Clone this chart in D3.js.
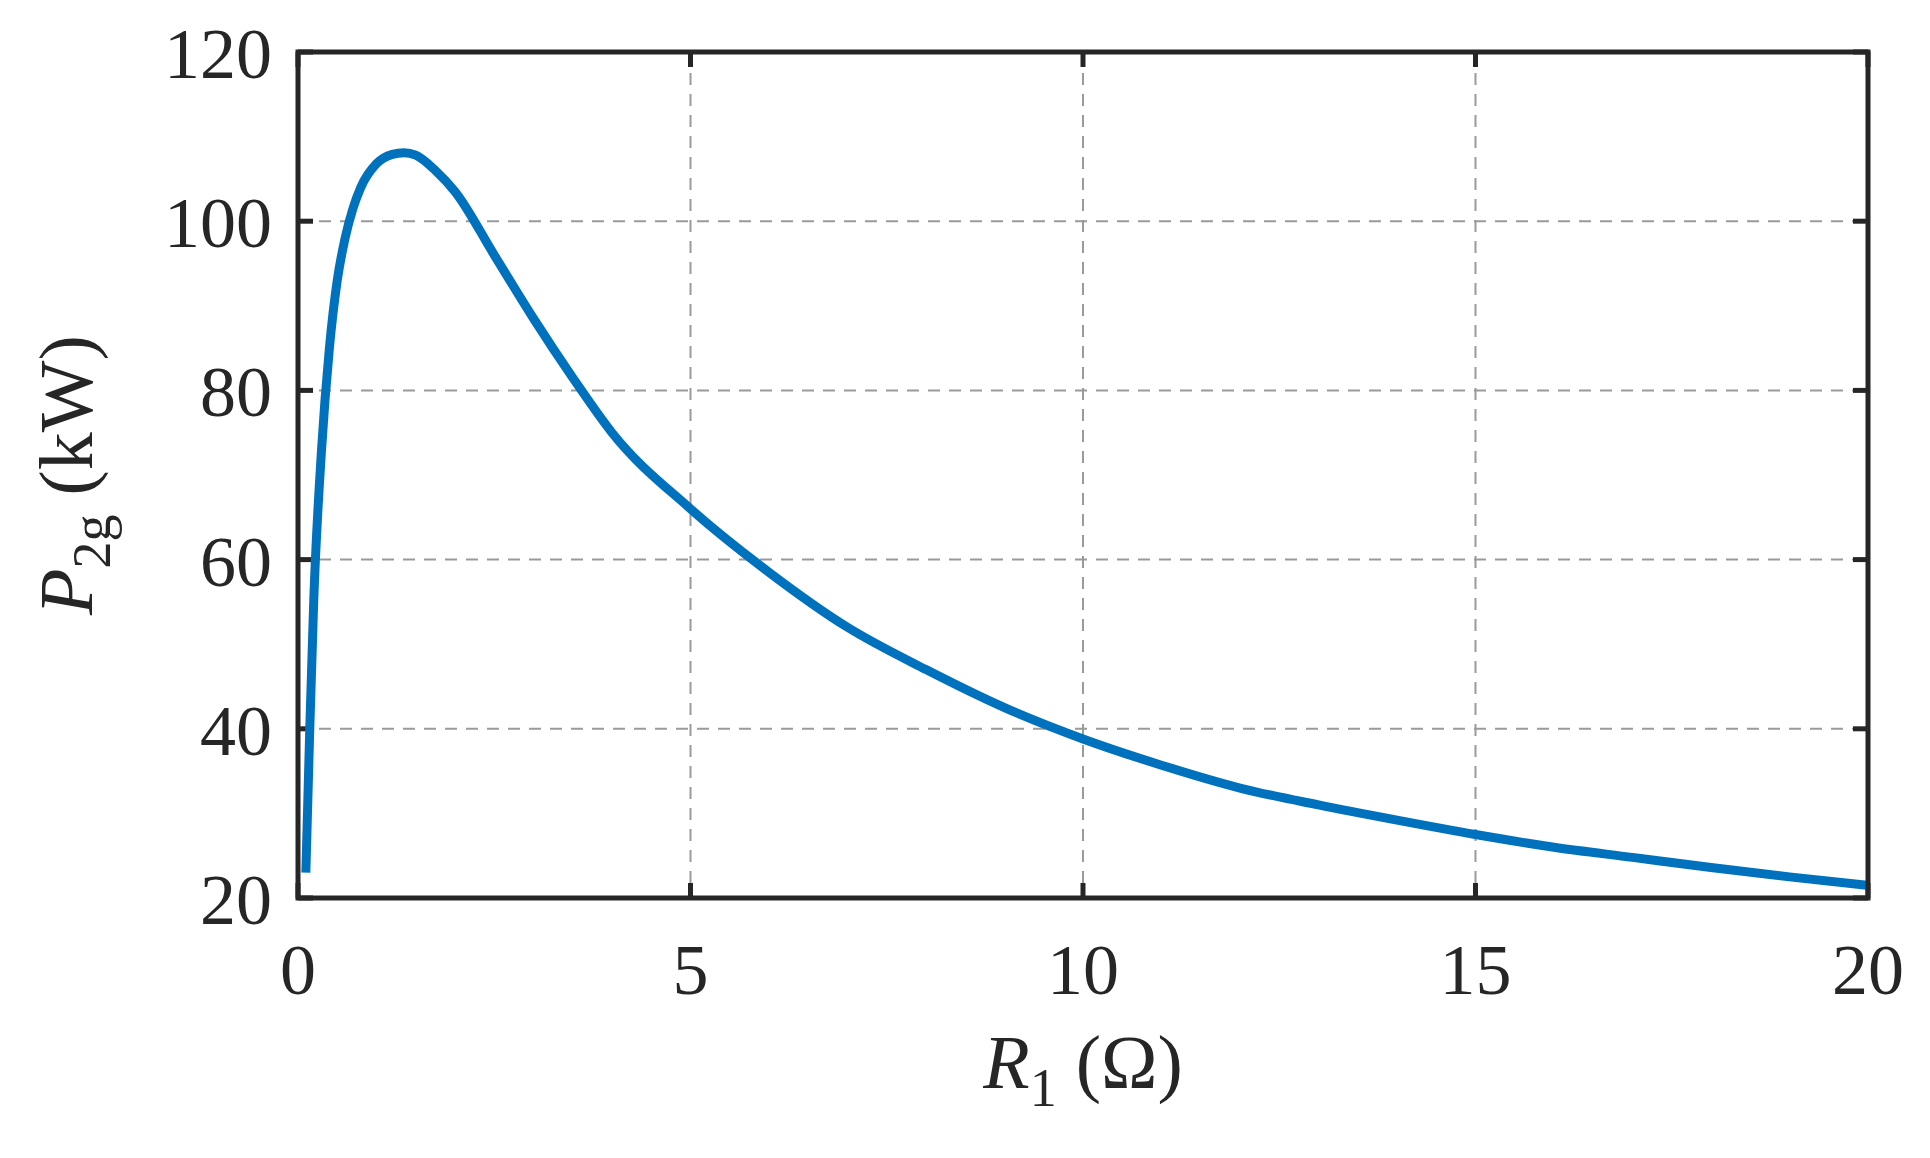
<!DOCTYPE html>
<html><head><meta charset="utf-8">
<script src="https://cdn.jsdelivr.net/npm/d3@7"></script>
<style>body{margin:0;background:#fff}</style>
</head><body>
<div id="chart"></div>
<script>
const rValues = [0.1,0.15,0.2,0.3,0.4,0.5,0.6,0.7,0.8,1.0,1.2,1.35,1.5,1.75,2.0,2.5,3,3.5,4,5,6,7,8,9,10,11,12,13,14,15,16,17,18,19,20];
const pValues = [23,40,55,73,85,93,98,101.5,104,106.8,107.9,108.1,107.8,106,103.5,96,88.5,81.5,75,66,58.5,52,47,42.5,38.8,35.7,33,31,29.2,27.5,26,24.8,23.6,22.5,21.5];
const xTicks = [0,5,10,15,20];
const yTicks = [20,40,60,80,100,120];

const width = 1930, height = 1158;
const m = {left: 298, right: 62, top: 52, bottom: 260};
const ink = "#262626";
const font = "'Liberation Serif','DejaVu Serif',serif";

const svg = d3.select("#chart").append("svg")
  .attr("width", width).attr("height", height);

const x = d3.scaleLinear().domain([0, 20]).range([m.left, width - m.right]);
const y = d3.scaleLinear().domain([20, 120]).range([height - m.bottom, m.top]);

// Grid lines
svg.append("g").selectAll("line").data(xTicks.slice(1, -1)).enter().append("line")
  .attr("x1", d => x(d)).attr("x2", d => x(d))
  .attr("y1", y(120)).attr("y2", y(20))
  .attr("stroke", "#9a9a9a").attr("stroke-width", 2).attr("stroke-dasharray", "12,9");
svg.append("g").selectAll("line").data(yTicks.slice(1, -1)).enter().append("line")
  .attr("x1", x(0)).attr("x2", x(20))
  .attr("y1", d => y(d)).attr("y2", d => y(d))
  .attr("stroke", "#9a9a9a").attr("stroke-width", 2).attr("stroke-dasharray", "12,9");

// Inward tick marks on all sides
const tl = 15;
const ticks = svg.append("g").attr("stroke", ink).attr("stroke-width", 5);
xTicks.forEach(d => {
  ticks.append("line").attr("x1", x(d)).attr("x2", x(d)).attr("y1", y(20)).attr("y2", y(20) - tl);
  ticks.append("line").attr("x1", x(d)).attr("x2", x(d)).attr("y1", y(120)).attr("y2", y(120) + tl);
});
yTicks.forEach(d => {
  ticks.append("line").attr("x1", x(0)).attr("x2", x(0) + tl).attr("y1", y(d)).attr("y2", y(d));
  ticks.append("line").attr("x1", x(20)).attr("x2", x(20) - tl).attr("y1", y(d)).attr("y2", y(d));
});

// Curve
const pts = rValues.map((r, i) => [r, pValues[i]]);
svg.append("path").datum(pts)
  .attr("fill", "none").attr("stroke", "#0072BD").attr("stroke-width", 9)
  .attr("d", d3.line().x(d => x(d[0])).y(d => y(d[1])).curve(d3.curveMonotoneX));

// Frame
svg.append("rect")
  .attr("x", x(0)).attr("y", y(120))
  .attr("width", x(20) - x(0)).attr("height", y(20) - y(120))
  .attr("fill", "none").attr("stroke", ink).attr("stroke-width", 5);

// Tick labels
svg.append("g").selectAll("text").data(xTicks).enter().append("text")
  .attr("x", d => x(d)).attr("y", y(20) + 96)
  .attr("text-anchor", "middle").attr("font-family", font).attr("font-size", 72).attr("fill", ink)
  .text(d => d);
svg.append("g").selectAll("text").data(yTicks).enter().append("text")
  .attr("x", x(0) - 26).attr("y", d => y(d) + 26)
  .attr("text-anchor", "end").attr("font-family", font).attr("font-size", 72).attr("fill", ink)
  .text(d => d);

// Axis labels
const xl = svg.append("text")
  .attr("x", (x(0) + x(20)) / 2).attr("y", y(20) + 190)
  .attr("text-anchor", "middle").attr("font-family", font).attr("font-size", 76).attr("fill", ink);
xl.append("tspan").attr("font-style", "italic").text("R");
xl.append("tspan").attr("font-size", 54).attr("dy", 18).text("1");
xl.append("tspan").attr("dy", -18).text(" (\u03A9)");

const yl = svg.append("text")
  .attr("transform", `translate(92,${(y(20) + y(120)) / 2}) rotate(-90)`)
  .attr("text-anchor", "middle").attr("font-family", font).attr("font-size", 76).attr("fill", ink);
yl.append("tspan").attr("font-style", "italic").text("P");
yl.append("tspan").attr("font-size", 54).attr("dy", 18).text("2g");
yl.append("tspan").attr("dy", -18).text(" (kW)");
</script>
</body></html>
